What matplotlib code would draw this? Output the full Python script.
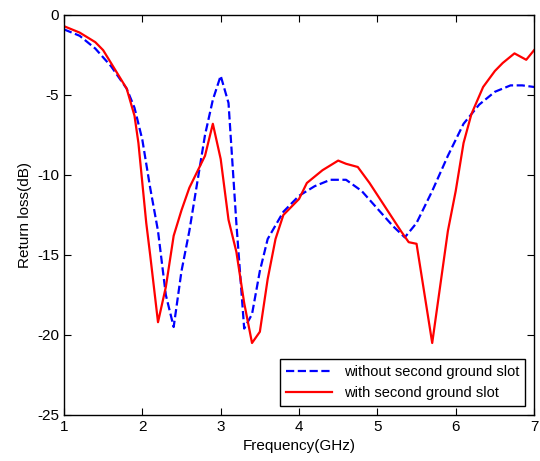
import numpy as np
import matplotlib
matplotlib.use('Agg')
import matplotlib.pyplot as plt

plt.rcParams['font.family'] = ['Liberation Sans', 'DejaVu Sans']
plt.rcParams['axes.unicode_minus'] = False

# without second ground slot
f_without = [1.0, 1.2, 1.4, 1.6, 1.8, 1.9, 2.0, 2.1, 2.2, 2.3, 2.4, 2.5, 2.6,
             2.7, 2.8, 2.9, 3.0, 3.1, 3.2, 3.3, 3.4, 3.5, 3.6, 3.8, 4.0, 4.2,
             4.4, 4.6, 4.8, 5.0, 5.2, 5.35, 5.5, 5.7, 5.9, 6.1, 6.3, 6.5, 6.7,
             6.85, 7.0]
rl_without = [-0.9, -1.3, -2.1, -3.2, -4.6, -5.8, -7.8, -10.8, -13.5, -17.5,
              -19.5, -16.0, -13.5, -10.5, -7.5, -5.3, -3.8, -5.5, -13.0, -19.6,
              -18.7, -16.0, -14.0, -12.3, -11.3, -10.7, -10.3, -10.3, -11.0,
              -12.1, -13.2, -13.9, -13.0, -11.0, -8.8, -6.8, -5.6, -4.8, -4.4,
              -4.4, -4.5]

# with second ground slot
f_with = [1.0, 1.2, 1.4, 1.5, 1.6, 1.8, 1.9, 1.95, 2.05, 2.1, 2.2, 2.3, 2.4,
          2.5, 2.6, 2.7, 2.8, 2.9, 3.0, 3.1, 3.2, 3.3, 3.4, 3.5, 3.6, 3.7, 3.8,
          3.9, 4.0, 4.1, 4.3, 4.5, 4.6, 4.75, 4.9, 5.1, 5.3, 5.4, 5.5, 5.7,
          5.8, 5.9, 6.0, 6.1, 6.2, 6.35, 6.5, 6.6, 6.75, 6.9, 7.0]
rl_with = [-0.7, -1.1, -1.7, -2.2, -3.0, -4.6, -6.3, -8.0, -13.0, -15.0,
           -19.2, -17.0, -13.8, -12.2, -10.8, -9.8, -8.8, -6.8, -9.0, -12.8,
           -14.8, -18.0, -20.5, -19.8, -16.5, -14.0, -12.5, -12.0, -11.5,
           -10.5, -9.7, -9.1, -9.3, -9.5, -10.5, -12.0, -13.5, -14.2, -14.3,
           -20.5, -17.0, -13.5, -11.0, -8.0, -6.2, -4.5, -3.5, -3.0, -2.4,
           -2.8, -2.2]

fig = plt.figure(figsize=(5.4, 4.61), dpi=100)
ax = fig.add_axes([0.1185, 0.0998, 0.8705, 0.8677])

ax.plot(f_without, rl_without, '--', color='#0000ff', lw=1.6,
        label='without second ground slot')
ax.plot(f_with, rl_with, '-', color='#ff0000', lw=1.6,
        label='with second ground slot')

ax.set_xlim(1, 7)
ax.set_ylim(-25, 0)
ax.set_xticks(np.arange(1, 8, 1))
ax.set_yticks(np.arange(-25, 1, 5))
ax.tick_params(direction='in', top=True, right=True, labelsize=11, length=5)
for s in ax.spines.values():
    s.set_linewidth(1.0)

ax.set_xlabel('Frequency(GHz)', fontsize=11)
ax.set_ylabel('Return loss(dB)', fontsize=11)

leg = ax.legend(loc='lower right', fancybox=False, edgecolor='black',
                fontsize=10.5, borderaxespad=0.6, handlelength=3.2,
                framealpha=1)
leg.get_frame().set_linewidth(1.0)

fig.savefig('out.png', dpi=100)
